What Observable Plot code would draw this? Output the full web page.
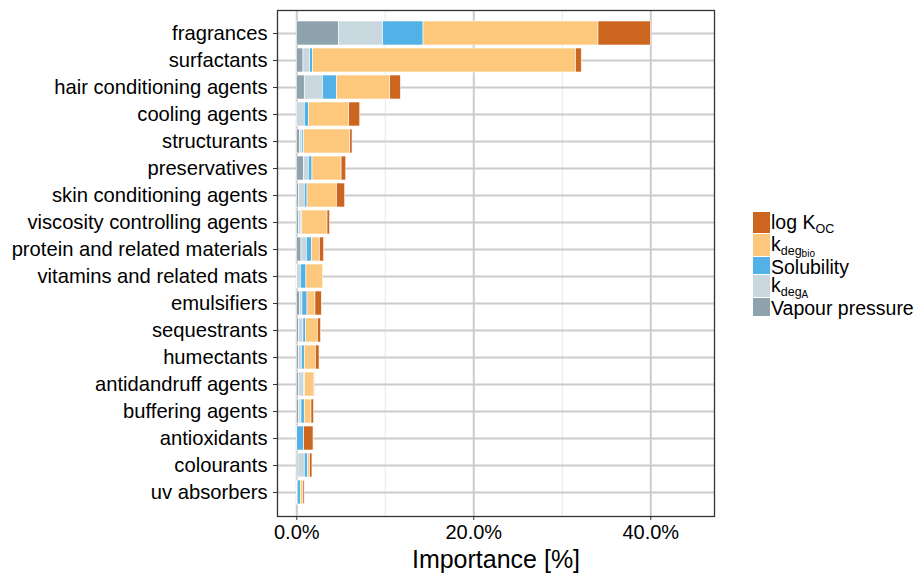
<!DOCTYPE html>
<html>
<head>
<meta charset="utf-8">
<script src="https://cdn.jsdelivr.net/npm/d3@7"></script>
<script src="https://cdn.jsdelivr.net/npm/@observablehq/plot@0.6"></script>
<style>
  body { margin: 0; background: #fff; font-family: "Liberation Sans", Arial, sans-serif; }
  #wrap { position: relative; width: 920px; height: 574px; }
  #legend { position: absolute; left: 753px; top: 212px; font-size: 19.5px; color: #000; }
  .row { display: flex; align-items: flex-start; line-height: 1; overflow: visible; }
  .sw { width: 17px; margin-right: 1px; align-self: stretch; border-bottom: 1px solid #fff; }
  .tx { position: relative; top: 1px; line-height: 1; }
  .sub1 { font-size: 12.5px; position: relative; top: 4px; line-height: 1; }
  .sub2 { font-size: 10px; position: relative; top: 2px; line-height: 1; }
</style>
</head>
<body>
<div id="wrap"><div id="chart"></div><div id="legend"></div></div>
<script>
const categories = ["fragrances","surfactants","hair conditioning agents","cooling agents","structurants","preservatives","skin conditioning agents","viscosity controlling agents","protein and related materials","vitamins and related mats","emulsifiers","sequestrants","humectants","antidandruff agents","buffering agents","antioxidants","colourants","uv absorbers"];
const vapourPressure = [4.78,0.76,0.90,0.00,0.38,0.83,0.26,0.26,0.53,0.05,0.34,0.26,0.26,0.26,0.26,0.05,0.19,0.05];
const kdegA          = [4.97,0.75,2.04,0.90,0.26,0.53,0.64,0.27,0.60,0.40,0.30,0.49,0.31,0.57,0.27,0.00,0.71,0.05];
const solubility     = [4.57,0.30,1.59,0.46,0.19,0.41,0.31,0.09,0.57,0.64,0.57,0.27,0.33,0.11,0.37,0.78,0.38,0.35];
const kdegBio        = [19.77,29.74,6.03,4.56,5.21,3.29,3.32,2.85,0.90,1.89,0.90,1.36,1.25,1.02,0.76,0.00,0.23,0.30];
const logKoc         = [5.94,0.65,1.21,1.25,0.26,0.53,0.94,0.30,0.49,0.00,0.72,0.37,0.42,0.08,0.30,1.06,0.26,0.15];
const seriesKeys = ["Vapour pressure","kdegA","Solubility","kdegbio","log KOC"];
const seriesColors = ["#8fa3ae","#c8d8de","#52b1e6","#fec87c","#cc651d"];
const xTicks = [0, 20, 40];
const xTickLabels = ["0.0%","20.0%","40.0%"];

const seriesValues = [vapourPressure, kdegA, solubility, kdegBio, logKoc];
const data = [];
seriesKeys.forEach((k, si) => categories.forEach((c, ci) => data.push({cat: c, key: k, value: seriesValues[si][ci]})));

const font = "Liberation Sans, Arial, sans-serif";
const plot = Plot.plot({
  width: 920, height: 574,
  marginLeft: 277, marginRight: 206, marginTop: 10, marginBottom: 58,
  style: {fontFamily: font, background: "#fff"},
  x: {domain: [-2.18, 47.2], label: null},
  y: {domain: categories, padding: 0.1, paddingOuter: 0.15, label: null},
  color: {domain: seriesKeys, range: seriesColors},
  marks: [
    Plot.gridX([10, 30], {stroke: "#ebebeb", strokeOpacity: 1, strokeWidth: 1.2}),
    Plot.gridX(xTicks, {stroke: "#cccccc", strokeOpacity: 1, strokeWidth: 2}),
    Plot.gridY(categories, {stroke: "#cccccc", strokeOpacity: 1, strokeWidth: 2}),
    Plot.barX(data, Plot.stackX({
      x: "value", y: "cat", fill: "key", order: seriesKeys,
      stroke: "#fff", strokeWidth: 0.6, inset: 0
    })),
    Plot.frame({stroke: "#333", strokeWidth: 1.3}),
    Plot.axisX(xTicks, {tickSize: 4, tickPadding: 4, stroke: "#333", fontSize: 20, fill: "#000",
      tickFormat: (d) => xTickLabels[xTicks.indexOf(d)], label: null}),
    Plot.axisY(categories, {tickSize: 4, tickPadding: 6, stroke: "#333", fontSize: 20.2, fill: "#000", label: null}),
    Plot.text(["Importance [%]"], {frameAnchor: "bottom", dy: 51, fontSize: 25, fill: "#000", text: d => d})
  ]
});
document.getElementById("chart").appendChild(plot);

const legendItems = [
  {html: "log K<span class='sub1'>OC</span>", color: seriesColors[4], h: 22},
  {html: "k<span class='sub1'>deg<span class='sub2'>bio</span></span>", color: seriesColors[3], h: 23},
  {html: "Solubility", color: seriesColors[2], h: 18},
  {html: "k<span class='sub1'>deg<span class='sub2'>A</span></span>", color: seriesColors[1], h: 23},
  {html: "Vapour pressure", color: seriesColors[0], h: 19}
];
const leg = document.getElementById("legend");
legendItems.forEach(it => {
  const r = document.createElement("div");
  r.className = "row";
  r.style.height = it.h + "px";
  r.innerHTML = `<div class="sw" style="background:${it.color}"></div><div class="tx">${it.html}</div>`;
  leg.appendChild(r);
});
</script>
</body>
</html>
